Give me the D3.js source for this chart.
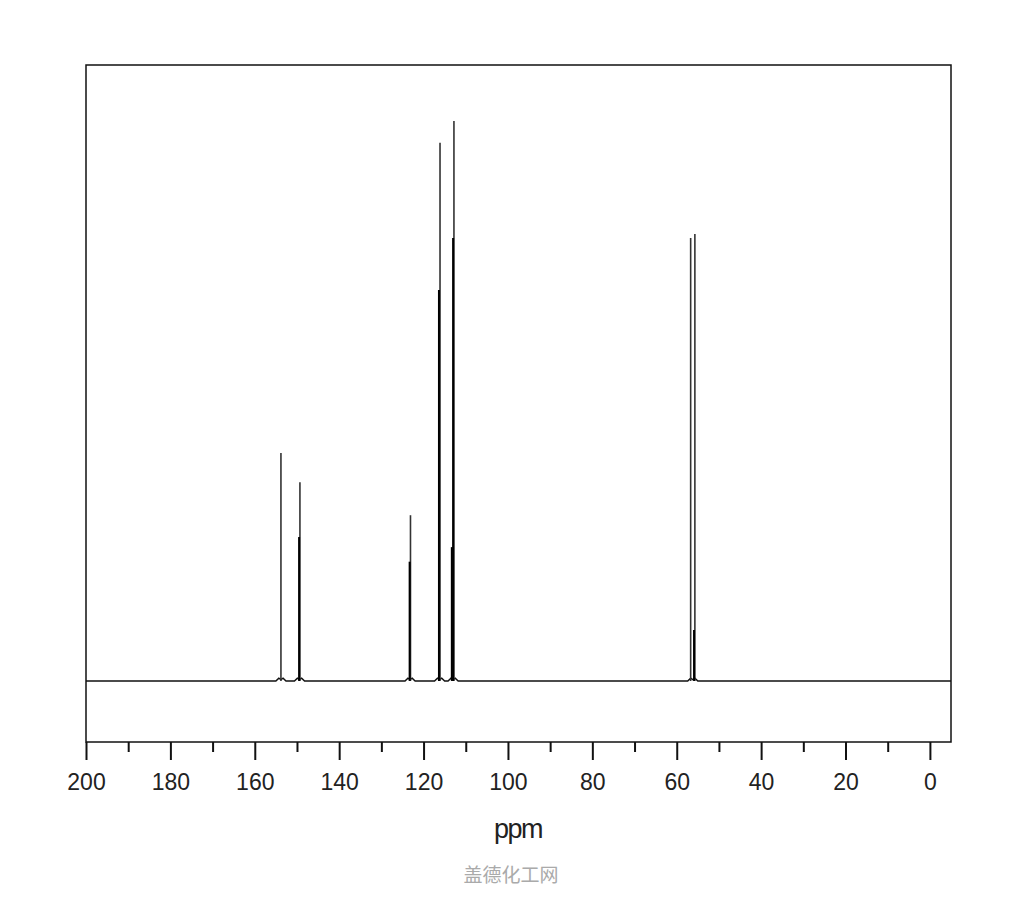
<!DOCTYPE html>
<html>
<head>
<meta charset="utf-8">
<script src="https://cdn.jsdelivr.net/npm/d3@7"></script>
<style>
  body { margin: 0; background: #fff; }
  svg { display: block; }
</style>
</head>
<body>
<svg id="chart" width="1024" height="900"></svg>
<script>
// peak lines: chemical shift (ppm) and relative height (tallest = 100)
const peakShift  = [153.8, 149.3, 149.5, 123.1, 123.3, 116.1, 116.35, 112.8, 113.0, 113.3, 56.7, 55.7, 55.9];
const peakHeight = [40.7,  35.5,  25.7,  29.6,  21.3,  96.1,  69.8,   100,   79.1,  23.9,  79.1, 79.8, 9.1];
const peakMain   = [true,  true,  false, true,  false, true,  false,  true,  false, false, true, true, false];

// small humps at the foot of each peak group
const footCenter = [153.8, 149.4, 123.2, 116.2, 113.0, 56.2];

const tickValues = d3.range(200, -1, -10);

const svg = d3.select("#chart");

const plotLeft = 86, plotRight = 951, plotTop = 65, plotBottom = 742;

const x = d3.scaleLinear().domain([200, -5]).range([plotLeft, plotRight]);
const y = d3.scaleLinear().domain([-10.9, 110]).range([plotBottom, plotTop]);

// frame
svg.append("rect")
  .attr("x", plotLeft)
  .attr("y", plotTop)
  .attr("width", plotRight - plotLeft)
  .attr("height", plotBottom - plotTop)
  .attr("fill", "none")
  .attr("stroke", "#111")
  .attr("stroke-width", 1.5);

// baseline with small feet around each group
const basePts = [[200, 0]];
footCenter.forEach(c => {
  basePts.push([c + 1.2, 0], [c + 0.5, 0.5], [c, 0.25], [c - 0.5, 0.5], [c - 1.2, 0]);
});
basePts.push([-5, 0]);
basePts.sort((a, b) => b[0] - a[0]);

svg.append("path")
  .datum(basePts)
  .attr("fill", "none")
  .attr("stroke", "#111")
  .attr("stroke-width", 1.5)
  .attr("d", d3.line().x(d => x(d[0])).y(d => y(d[1])));

// peak sticks
svg.selectAll("line.peak")
  .data(peakShift)
  .enter()
  .append("line")
  .attr("class", "peak")
  .attr("x1", d => x(d))
  .attr("x2", d => x(d))
  .attr("y1", y(0))
  .attr("y2", (d, i) => y(peakHeight[i]))
  .attr("stroke", (d, i) => peakMain[i] ? "#333" : "#000")
  .attr("stroke-width", (d, i) => peakMain[i] ? 1.6 : 2);

// x axis
const axis = d3.axisBottom(x)
  .tickValues(tickValues)
  .tickSize(0)
  .tickFormat(d => d % 20 === 0 ? d : "");

const gx = svg.append("g")
  .attr("transform", `translate(0,${plotBottom})`)
  .call(axis);

gx.select(".domain").remove();

gx.selectAll(".tick line")
  .attr("y2", d => d % 20 === 0 ? 18 : 10)
  .attr("stroke", "#111")
  .attr("stroke-width", 2);

gx.selectAll(".tick text")
  .attr("y", 48)
  .attr("dy", 0)
  .attr("fill", "#222")
  .attr("font-family", "Liberation Sans, Arial, sans-serif")
  .attr("font-size", 23);

// axis title
svg.append("text")
  .attr("x", 518)
  .attr("y", 838)
  .attr("text-anchor", "middle")
  .attr("font-family", "Liberation Sans, Arial, sans-serif")
  .attr("font-size", 27)
  .attr("letter-spacing", -1.5)
  .attr("fill", "#222")
  .text("ppm");

// watermark
svg.append("text")
  .attr("x", 511)
  .attr("y", 882)
  .attr("text-anchor", "middle")
  .attr("font-family", "Noto Sans CJK SC, sans-serif")
  .attr("font-size", 19)
  .attr("fill", "#aaa")
  .text("盖德化工网");
</script>
</body>
</html>
